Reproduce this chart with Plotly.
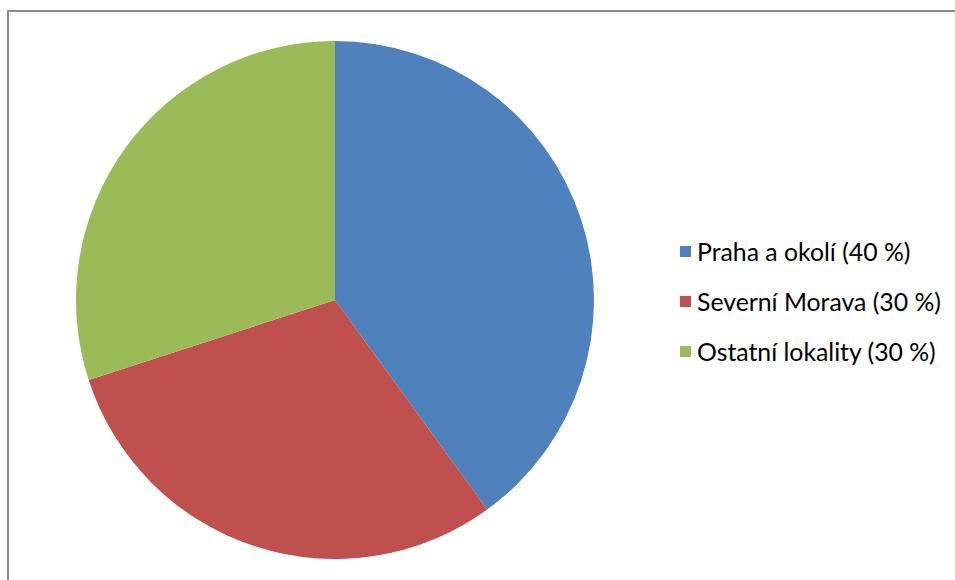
import plotly.graph_objects as go

labels = ["Praha a okolí", "Severní Morava", "Ostatní lokality"]
values = [40, 30, 30]
colors = ["#4F81BD", "#C0504D", "#9BBB59"]
legend_texts = [f"{l} ({v} %)" for l, v in zip(labels, values)]

W, H = 955, 580

fig = go.Figure()
fig.add_trace(go.Pie(
    labels=labels, values=values, sort=False, direction="clockwise", rotation=0,
    marker=dict(colors=colors, line=dict(width=0)),
    textinfo="none", hoverinfo="label+percent", showlegend=False,
    domain=dict(x=[76 / W, 594 / W], y=[1 - 559 / H, 1 - 41 / H]),
))

shapes = [dict(type="rect", xref="paper", yref="paper",
               x0=8 / W, x1=1.05, y0=-0.05, y1=1 - 11 / H,
               line=dict(color="#8c8c8c", width=2), fillcolor="rgba(0,0,0,0)")]
annotations = []
for i, (txt, c) in enumerate(zip(legend_texts, colors)):
    yc = 251 + 50 * i
    shapes.append(dict(type="rect", xref="paper", yref="paper",
                       x0=680 / W, x1=691 / W, y0=1 - (yc + 6) / H, y1=1 - (yc - 5) / H,
                       line=dict(width=0), fillcolor=c))
    annotations.append(dict(x=695 / W, y=1 - yc / H, xref="paper", yref="paper",
                            text=txt, showarrow=False, xanchor="left", yanchor="middle",
                            font=dict(family="Lato", size=24.8, color="#000000")))

fig.update_layout(
    width=W, height=H, margin=dict(l=0, r=0, t=0, b=0),
    paper_bgcolor="white", plot_bgcolor="white",
    shapes=shapes, annotations=annotations,
)
fig.write_html("out.html", config={"displayModeBar": False},
               post_script="document.body.style.margin='0';document.body.style.overflow='hidden';")
